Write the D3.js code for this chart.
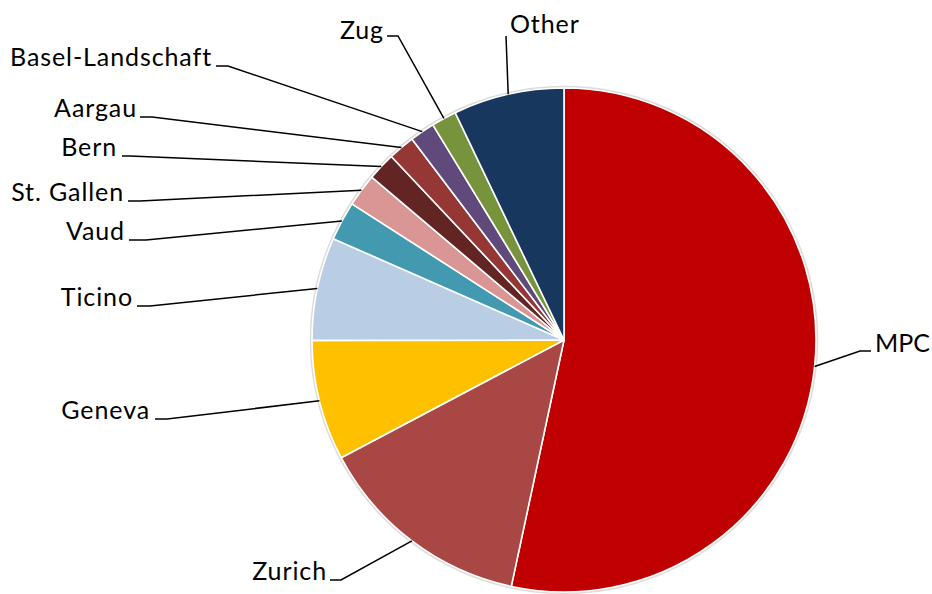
<!DOCTYPE html>
<html>
<head>
<meta charset="utf-8">
<script src="https://cdn.jsdelivr.net/npm/d3@7"></script>
<style>
  html, body { margin: 0; padding: 0; background: #fff; }
  svg { display: block; }
  text { font-family: Lato, "Open Sans", sans-serif; fill: #000; letter-spacing: 0.9px; }
</style>
</head>
<body>
<svg id="chart" width="932" height="594"></svg>
<script>
// ---- data ----
const categories = ["MPC", "Zurich", "Geneva", "Ticino", "Vaud", "St. Gallen", "Bern", "Aargau", "Basel-Landschaft", "Zug", "Other"];
const values = [53.3, 13.9, 7.7, 6.6, 2.5, 2.1, 1.8, 1.7, 1.6, 1.6, 7.1];
const colors = ["#C00000", "#A94745", "#FFC000", "#B9CDE5", "#4299B0", "#D99694", "#632523", "#953735", "#604A7B", "#77933C", "#17375E"];

// ---- label layout (text position, anchor, elbow) ----
const labelLayout = [
  { x: 875, y: 352, anchor: "start", lineY: 351, h1: 871, h2: 860 },   // MPC
  { x: 327, y: 580, anchor: "end",   lineY: 580, h1: 330, h2: 341 },   // Zurich
  { x: 150, y: 419, anchor: "end",   lineY: 419, h1: 155, h2: 167 },   // Geneva
  { x: 133, y: 306, anchor: "end",   lineY: 306, h1: 137, h2: 150 },   // Ticino
  { x: 125, y: 240, anchor: "end",   lineY: 240, h1: 129, h2: 146 },   // Vaud
  { x: 124, y: 201, anchor: "end",   lineY: 201, h1: 128, h2: 140 },   // St. Gallen
  { x: 117, y: 156, anchor: "end",   lineY: 156, h1: 122, h2: 130 },   // Bern
  { x: 137, y: 117, anchor: "end",   lineY: 117, h1: 140, h2: 152 },   // Aargau
  { x: 212, y: 66,  anchor: "end",   lineY: 66,  h1: 216, h2: 228 },   // Basel-Landschaft
  { x: 384, y: 39,  anchor: "end",   lineY: 36,  h1: 387, h2: 398 },   // Zug
  { x: 510, y: 33,  anchor: "start", lineY: 36,  h1: 506, h2: 506 }    // Other
];

const svg = d3.select("#chart");
const cx = 564, cy = 340, R = 252;

const pie = d3.pie().sort(null).value(d => d.value).startAngle(0).endAngle(2 * Math.PI);
const data = categories.map((c, i) => ({ name: c, value: values[i], color: colors[i], layout: labelLayout[i] }));
const arcs = pie(data);

const arc = d3.arc().innerRadius(0).outerRadius(R);

const g = svg.append("g").attr("transform", `translate(${cx},${cy})`);

// faint halo around the pie
g.append("circle").attr("r", R + 1).attr("fill", "none").attr("stroke", "#dcdcdc").attr("stroke-width", 2.5);

g.selectAll("path.slice")
  .data(arcs)
  .join("path")
  .attr("class", "slice")
  .attr("d", arc)
  .attr("fill", d => d.data.color)
  .attr("stroke", "#fff")
  .attr("stroke-width", 1.6)
  .attr("stroke-linejoin", "round");

// leader lines
const leaders = svg.append("g");
arcs.forEach(d => {
  const mid = (d.startAngle + d.endAngle) / 2;
  const px = cx + R * Math.sin(mid);
  const py = cy - R * Math.cos(mid);
  const L = d.data.layout;
  leaders.append("path")
    .attr("d", d3.line()([[L.h1, L.lineY], [L.h2, L.lineY], [px, py]]))
    .attr("fill", "none")
    .attr("stroke", "#000")
    .attr("stroke-width", 1.5);
});

// labels
svg.append("g").selectAll("text")
  .data(arcs)
  .join("text")
  .attr("x", d => d.data.layout.x)
  .attr("y", d => d.data.layout.y)
  .attr("text-anchor", d => d.data.layout.anchor)
  .attr("font-size", 25)
  .style("letter-spacing", d => d.data.name === "MPC" ? "0px" : null)
  .text(d => d.data.name);
</script>
</body>
</html>
